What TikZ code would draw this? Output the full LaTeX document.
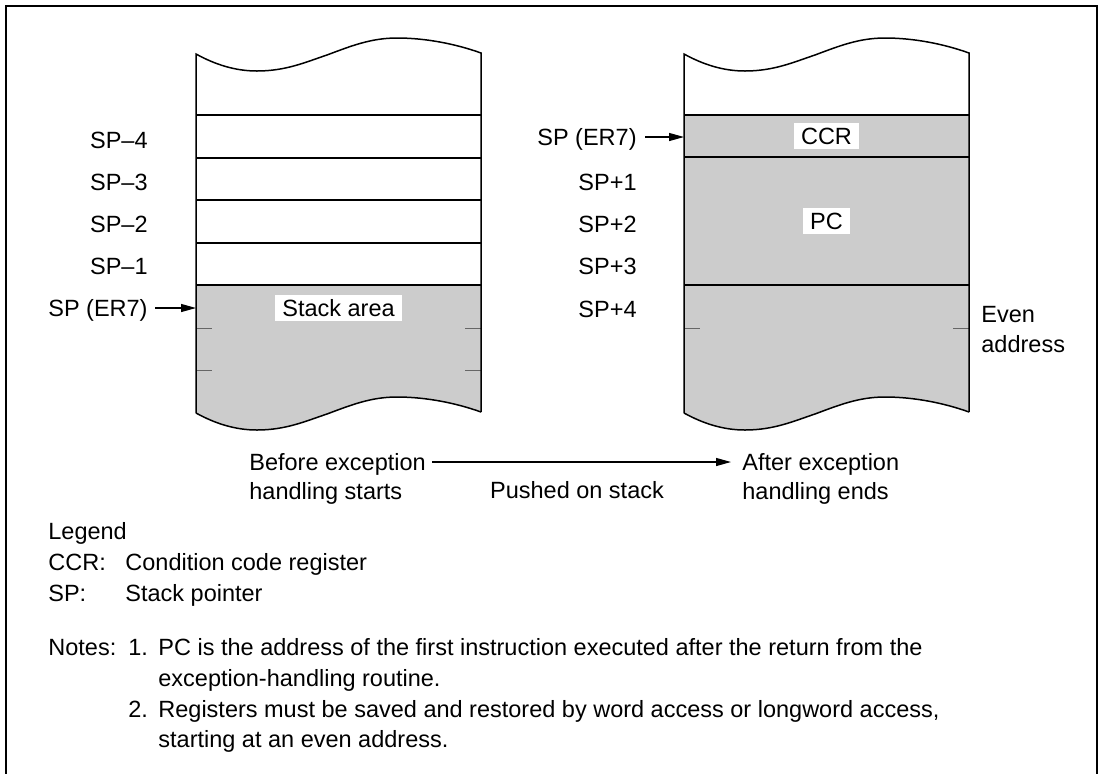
\documentclass[tikz,border=0pt]{standalone}
\usepackage{fontspec}
\setmainfont{Liberation Sans}
\usetikzlibrary{positioning, arrows.meta}

\definecolor{stackgray}{HTML}{CCCCCC}

% wavy cut edges of a stack (local coordinates, one pixel = one unit)
\newcommand{\topwave}{(0,54) .. controls (20,65) and (40,71) .. (61,71) .. controls (90,71) and (110,62) .. (131,55) .. controls (155,46) and (175,38) .. (201,38) .. controls (230,38) and (260,44) .. (285,53)}
\newcommand{\botwave}{(0,413) .. controls (20,424) and (40,430) .. (61,430) .. controls (90,430) and (110,421) .. (131,414) .. controls (155,405) and (175,397) .. (201,397) .. controls (230,397) and (260,403) .. (285,412)}

\begin{document}
\begin{tikzpicture}[
  x=0.5pt, y=-0.5pt,
  font=\fontsize{11.75}{15}\selectfont,
  stk/.style={line width=0.75pt},
  frame/.style={line width=1pt},
  ptr/.style={-{Triangle[length=7.5pt,width=4pt]}, line width=0.6pt},
  tick/.style={line width=0.5pt, black!60},
  cell/.style={fill=white, inner xsep=3.5pt, inner ysep=2.3pt, text height=8.4pt, text depth=0pt},
  lbl/.style={inner sep=0pt, text height=8.4pt, text depth=0pt}
]
\useasboundingbox (0,0) rectangle (1103,773);

% --- Rahmen ---
\draw[frame] (6,780) -- (6,6) -- (1097,6) -- (1097,780);

% --- Stack vorher ---
\begin{scope}[shift={(196,0)}]
  \fill[stackgray] (0,285) -- \botwave -- (285,285) -- cycle;
  \draw[stk] (0,115) -- (285,115) (0,158) -- (285,158) (0,200) -- (285,200)
             (0,243) -- (285,243) (0,285) -- (285,285);
  \draw[tick] (0,328) -- (16,328) (269,328) -- (285,328)
              (0,370) -- (16,370) (269,370) -- (285,370);
  \draw[stk] (0,413) -- \topwave -- (285,412);
  \draw[stk] \botwave;
  \node[cell] (stackArea) at (142.5,308) {Stack area};
  \coordinate (edgeL) at (0,308);
\end{scope}

% --- Stack nachher ---
\begin{scope}[shift={(684,0)}]
  \fill[stackgray] (0,115) -- \botwave -- (285,115) -- cycle;
  \draw[stk] (0,115) -- (285,115) (0,157) -- (285,157) (0,285) -- (285,285);
  \draw[tick] (0,328) -- (16,328) (269,328) -- (285,328);
  \draw[stk] (0,413) -- \topwave -- (285,412);
  \draw[stk] \botwave;
  \node[cell] (ccr) at (142.5,136) {CCR};
  \node[cell] (pc) at (142.5,221) {PC};
  \coordinate (edgeR) at (0,137);
\end{scope}

% --- Adressen links ---
\node[lbl, anchor=east] (lm4) at (148,140) {SP--4};
\node[lbl, anchor=east] (lm3) at (148,182) {SP--3};
\node[lbl, anchor=east] (lm2) at (148,224) {SP--2};
\node[lbl, anchor=east] (lm1) at (148,266) {SP--1};
\node[lbl, anchor=east] (spL) at (148,308) {SP (ER7)};

% --- Adressen rechts ---
\node[lbl, anchor=east] (spR) at (637,137) {SP (ER7)};
\node[lbl, anchor=east] (rp1) at (637,182) {SP+1};
\node[lbl, anchor=east] (rp2) at (637,224) {SP+2};
\node[lbl, anchor=east] (rp3) at (637,266) {SP+3};
\node[lbl, anchor=east] (rp4) at (637,309) {SP+4};
\node[lbl, anchor=west] (even1) at (981,314) {Even};
\node[lbl, below=6pt of even1.south west, anchor=north west] (even2) {address};

\draw[ptr, shorten <=3.5pt] (spL) -- (edgeL);
\draw[ptr, shorten <=4pt] (spR) -- (edgeR);

% --- Uebergang ---
\node[lbl, anchor=west] (before1) at (249,462) {Before exception};
\node[lbl, below=5.6pt of before1.south west, anchor=north west] (before2) {handling starts};
\node[lbl, anchor=west] (after1) at (742,462) {After exception};
\node[lbl, below=5.6pt of after1.south west, anchor=north west] (after2) {handling ends};
\node[lbl] (pushed) at (577,490) {Pushed on stack};
\draw[ptr, shorten <=3pt, shorten >=5.5pt] (before1) -- (after1);

% --- Legende ---
\node[lbl, anchor=west] (legend) at (48,531) {Legend};
\node[lbl, below=6.6pt of legend.south west, anchor=north west] (kCCR) {CCR:};
\node[lbl, below=6.6pt of kCCR.south west, anchor=north west] (kSP) {SP:};
\node[lbl, anchor=west] (dCCR) at (125,0 |- kCCR.west) {Condition code register};
\node[lbl, anchor=west] (dSP) at (125,0 |- kSP.west) {Stack pointer};

% --- Hinweise ---
\node[lbl, anchor=west] (notes) at (48,647) {Notes:};
\node[lbl, anchor=west] (n1) at (128,647) {1.};
\node[lbl, anchor=west] (n1a) at (158,647) {PC is the address of the first instruction executed after the return from the};
\node[lbl, below=6.6pt of n1a.south west, anchor=north west] (n1b) {exception-handling routine.};
\node[lbl, below=6.6pt of n1b.south west, anchor=north west] (n2a) {Registers must be saved and restored by word access or longword access,};
\node[lbl, anchor=west] (n2) at (128,0 |- n2a.west) {2.};
\node[lbl, below=6.6pt of n2a.south west, anchor=north west] (n2b) {starting at an even address.};

\end{tikzpicture}
\end{document}
